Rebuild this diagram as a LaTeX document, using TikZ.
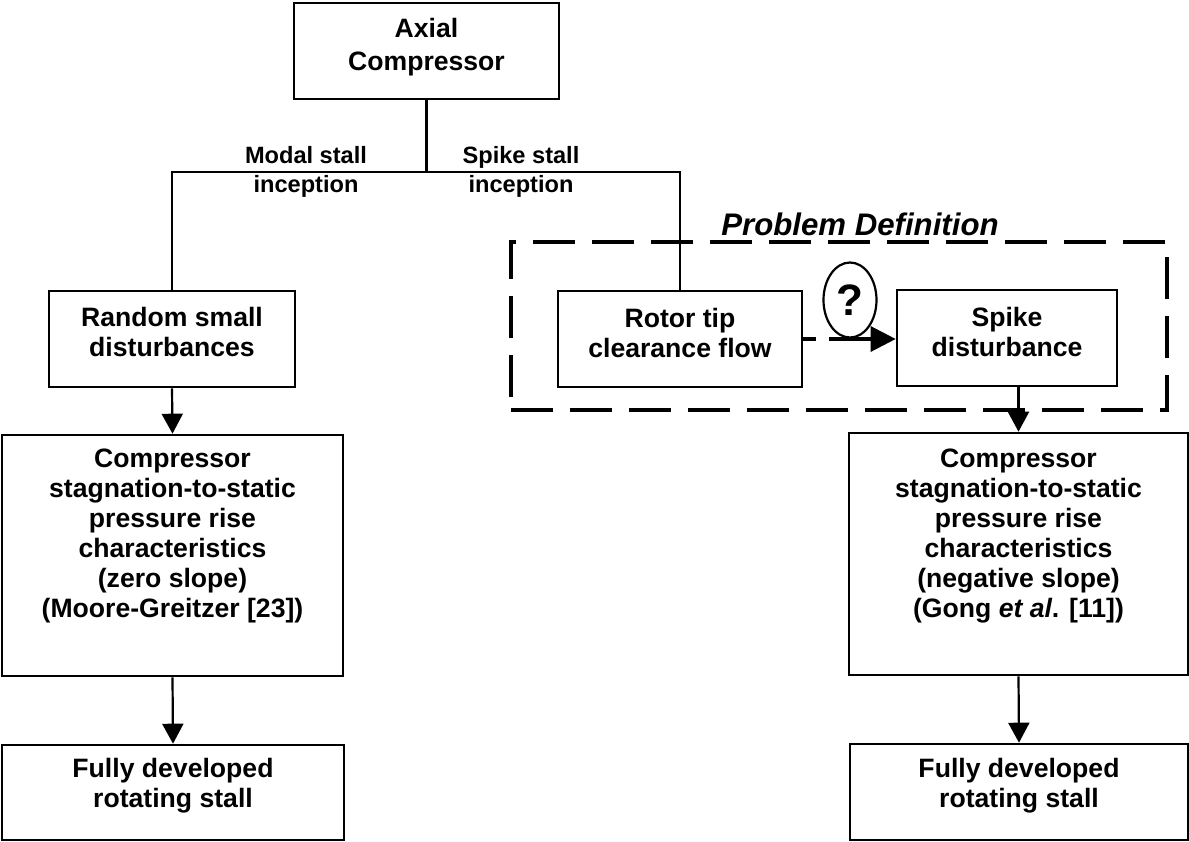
\documentclass[tikz,border=0pt]{standalone}
\usepackage{fontspec}
\setmainfont{Liberation Sans}
\usetikzlibrary{arrows.meta,shapes.geometric}
\begin{document}
\begin{tikzpicture}[x=0.5pt,y=-0.5pt,
  box/.style={draw,line width=1.3pt,inner sep=0pt},
  txt/.style={align=center,font=\fontsize{13.3}{15}\selectfont\bfseries,inner sep=0pt},
  lbl/.style={align=center,font=\fontsize{11.8}{14.5}\selectfont\bfseries,inner sep=0pt},
  conn/.style={line width=1.1pt},
  arr/.style={conn,-{Triangle[length=10pt,width=10.5pt]}},
]
\useasboundingbox (0,0) rectangle (1189,841);

% boxes
\node[box,minimum width=132.5pt,minimum height=48pt] (axial) at (426.5,51) {};
\node[box,minimum width=123pt,minimum height=48pt] (random) at (172,339) {};
\node[box,minimum width=122pt,minimum height=48pt] (rotor) at (680,339) {};
\node[box,minimum width=110pt,minimum height=48pt] (spike) at (1007,338) {};
\node[box,minimum width=170.5pt,minimum height=120.5pt] (lcomp) at (172.5,555.5) {};
\node[box,minimum width=169.5pt,minimum height=121pt] (rcomp) at (1018.5,554) {};
\node[box,minimum width=171pt,minimum height=47.5pt] (lfully) at (173,792.5) {};
\node[box,minimum width=169pt,minimum height=48pt] (rfully) at (1019,792) {};

% problem definition frame
\node[draw,line width=2.2pt,dash pattern=on 21pt off 8.5pt,minimum width=328pt,minimum height=84pt,inner sep=0pt] (pd) at (839,326) {};
\node[font=\fontsize{15.6}{18}\selectfont\bfseries\itshape,anchor=base,inner sep=0pt] (pdt) at (860,235) {Problem Definition};

% texts
\node[txt,font=\fontsize{13.3}{16.5}\selectfont\bfseries] (axialt) at (426.5,46.75) {Axial\\Compressor};
\node[txt] (randomt) at (172,331.5) {Random small\\disturbances};
\node[txt] (rotort) at (680,332.5) {Rotor tip\\clearance flow};
\node[txt] (spiket) at (1007,332) {Spike\\disturbance};
\node[txt] (lcompt) at (172.5,536) {Compressor\\stagnation-to-static\\pressure rise\\characteristics\\(zero slope)\\(Moore-Greitzer [23])};
\node[txt] (rcompt) at (1018.5,536) {Compressor\\stagnation-to-static\\pressure rise\\characteristics\\(negative slope)\\(Gong \textit{et al}. [11])};
\node[txt] (lfullyt) at (173,786) {Fully developed\\rotating stall};
\node[txt] (rfullyt) at (1019,786) {Fully developed\\rotating stall};

% branch labels
\node[lbl] (modal) at (306,171.5) {Modal stall\\inception};
\node[lbl] (spikel) at (521,171.5) {Spike stall\\inception};

% question ellipse
\node[ellipse,draw,line width=1.1pt,minimum width=26.5pt,minimum height=37.5pt,inner sep=0pt,font=\fontsize{22}{24}\selectfont\bfseries] (q) at (850,300) {?};

% connectors
\coordinate (split) at (426.5,172);
\draw[conn] (axial.south) -- (split);
\draw[conn] (random.north) |- (split) -| (rotor.north);
\draw[line width=1.6pt,dash pattern=on 6.5pt off 6.5pt on 60pt,-{Triangle[length=12.5pt,width=12.5pt]}] (rotor.east) -- (rotor.east -| spike.west);
\draw[arr] (random.south) -- (lcomp.north);
\draw[arr] (lcomp.south) -- (lfully.north);
\draw[arr] (spike.south -| rcomp.north) -- (rcomp.north);
\draw[arr] (rcomp.south) -- (rfully.north);
\end{tikzpicture}
\end{document}
